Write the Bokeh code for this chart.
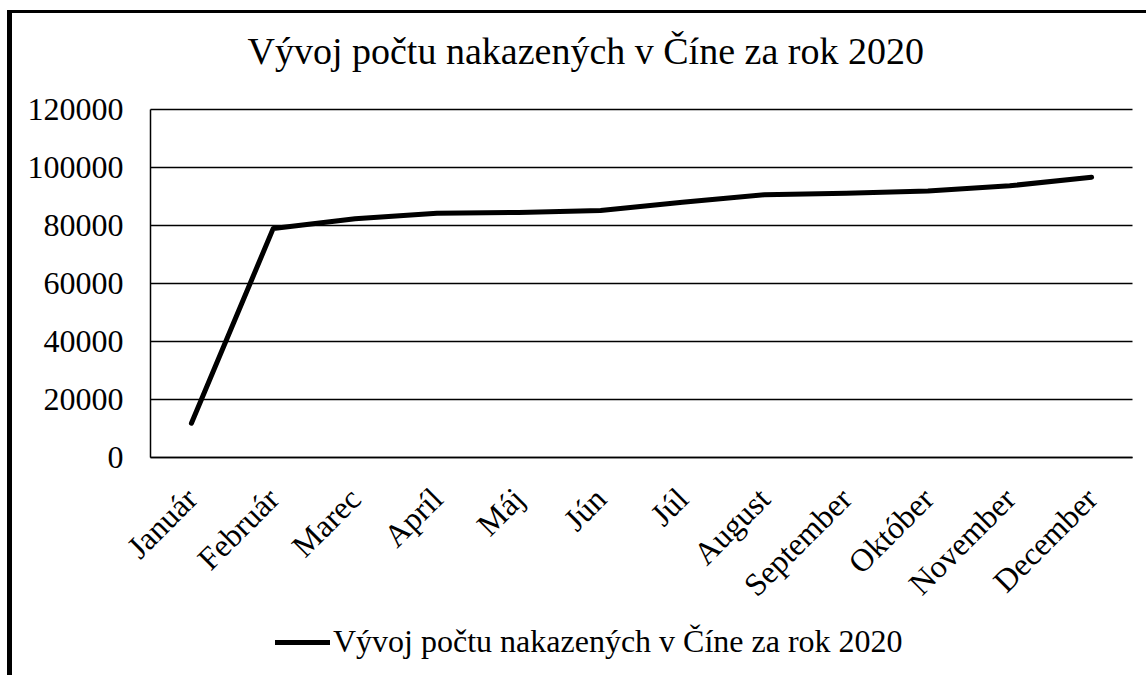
import math
from bokeh.plotting import figure
from bokeh.models import (Range1d, Legend, LegendItem,
                          FixedTicker, NumeralTickFormatter)
from bokeh.embed import file_html
from bokeh.resources import INLINE

title_text = "Vývoj počtu nakazených v Číne za rok 2020"
months = ["Január", "Február", "Marec", "Apríl", "Máj", "Jún", "Júl",
          "August", "September", "Október", "November", "December"]
cases = [11800, 79000, 82300, 84200, 84500, 85200, 88000, 90600,
         91100, 91900, 93700, 96600]
y_ticks = [0, 20000, 40000, 60000, 80000, 100000, 120000]

FONT = "Liberation Serif"

# category slots: month i is centred on x = i
x_idx = list(range(len(months)))
x_lo, x_hi = -0.5, len(months) - 0.5
y_lo, y_hi = y_ticks[0], y_ticks[-1]

# layout: the frame covers the whole canvas below the title, so the
# rotated month labels and the legend are not clipped
PLOT_W, PLOT_H = 982, 348           # pixel size of the value area
LEFT_PAD, RIGHT_PAD = 138, 14       # frame space left / right of it
TOP_PAD, BOTTOM_PAD = 26, 208       # frame space above / below it
FRAME_W = PLOT_W + LEFT_PAD + RIGHT_PAD
FRAME_H = PLOT_H + TOP_PAD + BOTTOM_PAD
xu = (x_hi - x_lo) / PLOT_W
yu = (y_hi - y_lo) / PLOT_H

p = figure(x_range=Range1d(x_lo - LEFT_PAD * xu, x_hi + RIGHT_PAD * xu),
           y_range=Range1d(y_lo - BOTTOM_PAD * yu, y_hi + TOP_PAD * yu),
           frame_width=FRAME_W, frame_height=FRAME_H,
           min_border_left=0, min_border_right=0,
           min_border_top=70, min_border_bottom=10,
           output_backend="svg", toolbar_location=None)

# chart-area border (left and top edges) drawn by the page
p.styles = {"border-left": "5px solid black", "border-top": "3px solid black",
            "margin-left": "7px", "margin-top": "10px"}

p.title.text = title_text
p.title.align = "left"
p.title.vertical_align = "bottom"
p.title.offset = 235
p.title.standoff = 24
p.title.text_font = FONT
p.title.text_font_size = "38px"
p.title.text_font_style = "normal"
p.title.text_color = "black"

p.outline_line_color = None
p.background_fill_color = "white"
p.border_fill_color = "white"

# horizontal gridlines limited to the value area
p.xgrid.visible = False
p.ygrid.visible = False
p.segment(x0=[x_lo] * len(y_ticks), x1=[x_hi] * len(y_ticks),
          y0=y_ticks, y1=y_ticks, line_color="black", line_width=1.5)

# y axis, pinned at the left edge of the first month slot
p.yaxis.fixed_location = x_lo
p.yaxis.bounds = (y_lo, y_hi)
p.yaxis.ticker = FixedTicker(ticks=y_ticks)
p.yaxis.formatter = NumeralTickFormatter(format="0")
p.yaxis.major_tick_line_color = None
p.yaxis.minor_tick_line_color = None
p.yaxis.axis_line_color = "black"
p.yaxis.axis_line_width = 1.5
p.yaxis.major_label_standoff = 21
p.yaxis.major_label_text_font = FONT
p.yaxis.major_label_text_font_size = "32px"
p.yaxis.major_label_text_color = "black"

# x axis, pinned at y = 0, month names as tick labels
p.xaxis.fixed_location = y_lo
p.xaxis.bounds = (x_lo, x_hi)
p.xaxis.ticker = FixedTicker(ticks=x_idx)
p.xaxis.major_label_overrides = {i: m for i, m in zip(x_idx, months)}
p.xaxis.major_tick_line_color = None
p.xaxis.minor_tick_line_color = None
p.xaxis.axis_line_color = "black"
p.xaxis.axis_line_width = 1.5
p.xaxis.major_label_orientation = math.pi / 4
p.xaxis.major_label_standoff = 30
p.xaxis.major_label_text_font = FONT
p.xaxis.major_label_text_font_size = "32px"
p.xaxis.major_label_text_color = "black"

r = p.line(x=x_idx, y=cases, line_color="black", line_width=5,
           line_join="round", line_cap="round")

legend = Legend(items=[LegendItem(label=title_text, renderers=[r])],
                location=(263, 5), orientation="horizontal",
                padding=0, margin=0, spacing=0,
                glyph_width=55, glyph_height=30, label_standoff=3,
                label_text_font=FONT, label_text_font_size="32px",
                label_text_color="black",
                border_line_color=None, background_fill_alpha=0)
p.add_layout(legend, "center")

open("out.html", "w").write(file_html(p, INLINE))
